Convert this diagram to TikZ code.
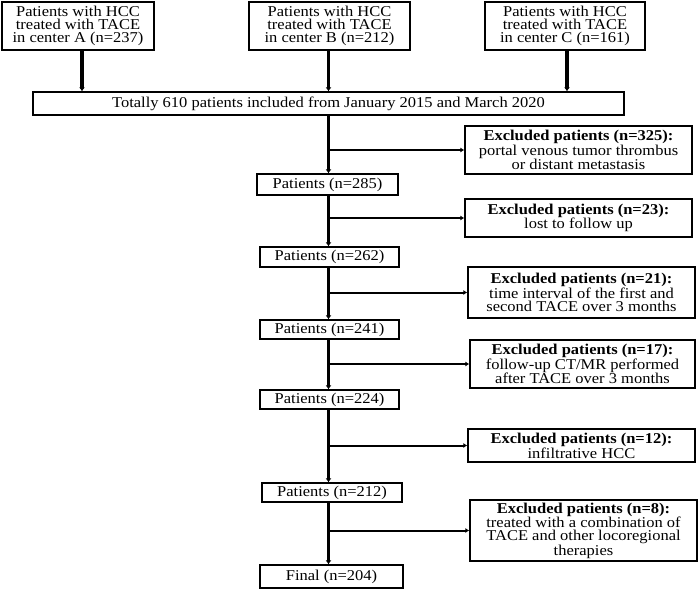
\documentclass[tikz,border=0pt]{standalone}
\usepackage{fontspec}
\setmainfont{Liberation Serif}[FakeStretch=1.1]
\usetikzlibrary{arrows.meta}
\begin{document}
\begin{tikzpicture}[x=1pt,y=-1pt,
  box/.style={draw=black,line width=1.3pt,inner sep=0pt,align=center,
    font=\fontsize{15}{12.7}\selectfont},
  trunk/.style={line width=3.6pt,-{Latex[length=4pt,width=6pt]}},
  branch/.style={line width=2pt,-{Latex[length=4pt,width=5pt]}}]
\useasboundingbox (0,0) rectangle (699,590);
% top boxes
\node[box,minimum width=152pt,minimum height=48pt] (a) at (78,26) {Patients with HCC\\treated with TACE\\in center A (n=237)};
\node[box,minimum width=161pt,minimum height=48pt] (b) at (329.5,26) {Patients with HCC\\treated with TACE\\in center B (n=212)};
\node[box,minimum width=160pt,minimum height=48pt] (c) at (565,26) {Patients with HCC\\treated with TACE\\in center C (n=161)};
\node[box,minimum width=591pt,minimum height=23pt] (tot) at (328.5,103.5) {Totally 610 patients included from January 2015 and March 2020};
% patient boxes
\node[box,minimum width=141pt,minimum height=21pt] (p1) at (327.5,184.5) {Patients (n=285)};
\node[box,minimum width=139pt,minimum height=20pt] (p2) at (329.5,257) {Patients (n=262)};
\node[box,minimum width=139pt,minimum height=19pt] (p3) at (329.5,329.5) {Patients (n=241)};
\node[box,minimum width=139pt,minimum height=19pt] (p4) at (329.5,399.5) {Patients (n=224)};
\node[box,minimum width=140pt,minimum height=19pt] (p5) at (332,492.5) {Patients (n=212)};
\node[box,minimum width=143pt,minimum height=23pt] (f) at (331.5,576.5) {Final (n=204)};
% excluded boxes
\node[box,minimum width=227pt,minimum height=48pt] (e1) at (578.5,150) {\textbf{Excluded patients (n=325):}\\portal venous tumor thrombus\\or distant metastasis};
\node[box,minimum width=227pt,minimum height=38pt] (e2) at (578.5,218) {\textbf{Excluded patients (n=23):}\\lost to follow up};
\node[box,minimum width=227pt,minimum height=51pt] (e3) at (581.5,292.5) {\textbf{Excluded patients (n=21):}\\time interval of the first and\\second TACE over 3 months};
\node[box,minimum width=225pt,minimum height=48pt] (e4) at (582.5,364) {\textbf{Excluded patients (n=17):}\\follow-up CT/MR performed\\after TACE over 3 months};
\node[box,minimum width=227pt,minimum height=33pt] (e5) at (581.5,445.5) {\textbf{Excluded patients (n=12):}\\infiltrative HCC};
\node[box,minimum width=227pt,minimum height=61pt] (e6) at (583.5,530.5) {\textbf{Excluded patients (n=8):}\\treated with a combination of\\TACE and other locoregional\\therapies};
% connectors
\coordinate (t) at (328.5,0);
\coordinate (ta) at (82,0);
\coordinate (tc) at (567,0);
\draw[trunk] (a.south -| ta) -- (tot.north -| ta);
\draw[trunk] (b.south -| t) -- (tot.north -| t);
\draw[trunk] (c.south -| tc) -- (tot.north -| tc);
\draw[trunk] (tot.south -| t) -- (p1.north -| t);
\draw[trunk] (p1.south -| t) -- (p2.north -| t);
\draw[trunk] (p2.south -| t) -- (p3.north -| t);
\draw[trunk] (p3.south -| t) -- (p4.north -| t);
\draw[trunk] (p4.south -| t) -- (p5.north -| t);
\draw[trunk] (p5.south -| t) -- (f.north -| t);
\draw[branch] (t |- e1.west) -- (e1.west);
\draw[branch] (t |- e2.west) -- (e2.west);
\draw[branch] (t |- e3.west) -- (e3.west);
\draw[branch] (t |- e4.west) -- (e4.west);
\draw[branch] (t |- e5.west) -- (e5.west);
\draw[branch] (t |- e6.west) -- (e6.west);
\end{tikzpicture}
\end{document}
